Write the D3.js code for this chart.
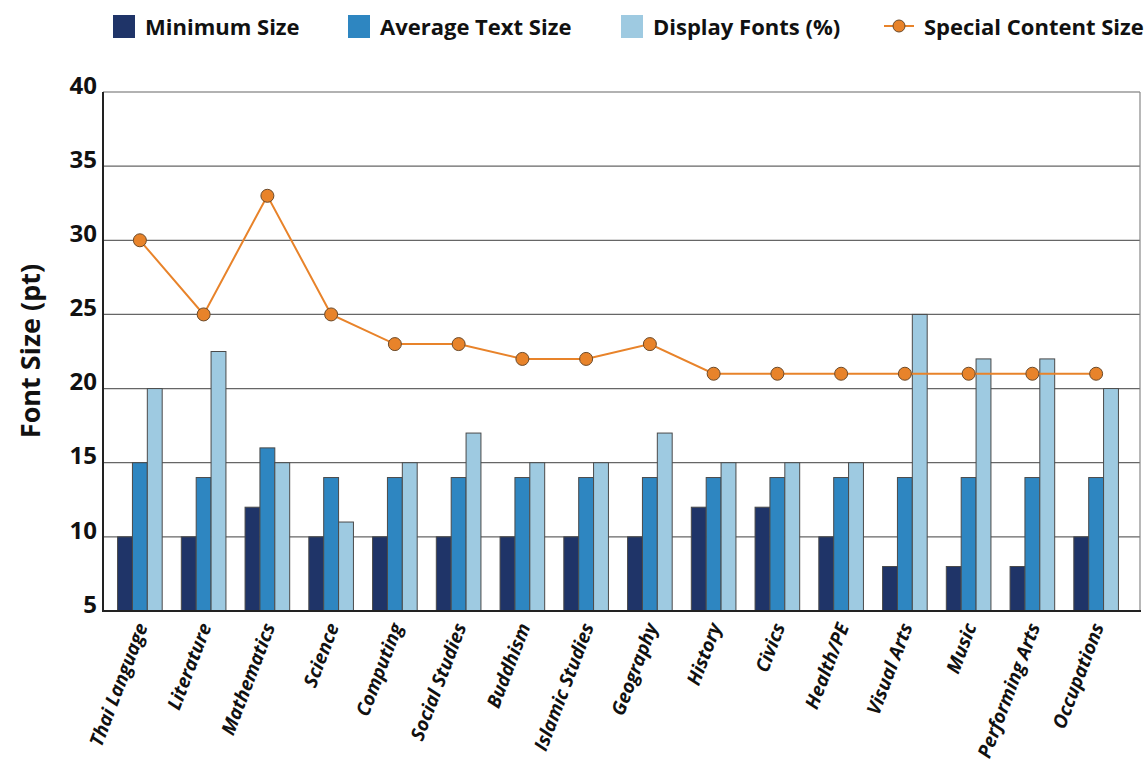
<!DOCTYPE html>
<html><head><meta charset="utf-8">
<script src="https://cdn.jsdelivr.net/npm/d3@7"></script>
<style>body{margin:0;background:#fff}svg{display:block}text{font-family:"Open Sans",sans-serif}</style>
</head><body>
<svg id="c" width="1145" height="767"></svg>
<script>
const categories = ["Thai Language","Literature","Mathematics","Science","Computing","Social Studies","Buddhism","Islamic Studies","Geography","History","Civics","Health/PE","Visual Arts","Music","Performing Arts","Occupations"];
const minimumSize = [10,10,12,10,10,10,10,10,10,12,12,10,8,8,8,10];
const averageTextSize = [15,14,16,14,14,14,14,14,14,14,14,14,14,14,14,14];
const displayFonts = [20,22.5,15,11,15,17,15,15,17,15,15,15,25,22,22,20];
const specialContentSize = [30,25,33,25,23,23,22,22,23,21,21,21,21,21,21,21];
const yTicks = [5,10,15,20,25,30,35,40];
const seriesNames = ["Minimum Size","Average Text Size","Display Fonts (%)","Special Content Size"];
const colors = ["#1f3468","#2e86c1","#9ecae1","#e8832a"];

const svg = d3.select("#c");
const pL = 103, pR = 1140, pT = 92, pB = 611;
const y = d3.scaleLinear().domain([5,40]).range([pB, pT]);
const x = d3.scaleBand().domain(categories).range([108, 1128]).paddingInner(0.3).paddingOuter(0.15);
const barSeries = [minimumSize, averageTextSize, displayFonts];
const xs = d3.scaleBand().domain([0,1,2]).range([0, x.bandwidth()]);

// gridlines
svg.append("g").selectAll("line").data(yTicks.filter(t=>t>5)).join("line")
  .attr("x1", pL).attr("x2", pR).attr("y1", d=>y(d)).attr("y2", d=>y(d))
  .attr("stroke", "#666").attr("stroke-width", 1.2);
svg.append("line").attr("x1", pR).attr("x2", pR).attr("y1", pT).attr("y2", pB).attr("stroke","#888").attr("stroke-width",1.2);

// bars
barSeries.forEach((vals, si) => {
  svg.append("g").selectAll("rect").data(categories).join("rect")
    .attr("x", (d)=> x(d) + xs(si))
    .attr("width", xs.bandwidth())
    .attr("y", (d,i)=> y(vals[i]))
    .attr("height", (d,i)=> y(5) - y(vals[i]))
    .attr("fill", colors[si])
    .attr("stroke", "#4a4a4a").attr("stroke-width", 1);
});

// line
const cx = d => x(d) + x.bandwidth()/2;
svg.append("path").datum(categories)
  .attr("d", d3.line().x(d=>cx(d)).y((d,i)=>y(specialContentSize[i])))
  .attr("fill","none").attr("stroke", colors[3]).attr("stroke-width", 2);
svg.append("g").selectAll("circle").data(categories).join("circle")
  .attr("cx", d=>cx(d)).attr("cy", (d,i)=>y(specialContentSize[i])).attr("r", 6.5)
  .attr("fill", colors[3]).attr("stroke", "#6b4a2a").attr("stroke-width", 1);

// axes
const yAxis = svg.append("g").attr("transform", `translate(${pL},0)`)
  .call(d3.axisLeft(y).tickValues(yTicks).tickSize(0).tickPadding(6));
yAxis.select(".domain").remove();
yAxis.selectAll("text").attr("font-size", 24).attr("font-weight", 700).attr("fill", "#111").attr("dy","0.05em");
svg.append("line").attr("x1", pL).attr("x2", pL).attr("y1", pT).attr("y2", pB+1).attr("stroke","#222").attr("stroke-width",2);
svg.append("line").attr("x1", pL).attr("x2", pR+1).attr("y1", pB).attr("y2", pB).attr("stroke","#222").attr("stroke-width",2);

const xAxis = svg.append("g").attr("transform", `translate(0,${pB})`)
  .call(d3.axisBottom(x).tickSize(0).tickPadding(0));
xAxis.select(".domain").remove();
xAxis.selectAll("text")
  .attr("text-anchor", "end")
  .attr("transform", `translate(2,13) rotate(-69)`)
  .attr("dy", "0.35em").attr("y", 0)
  .attr("font-size", 19).attr("font-weight", 700).attr("font-style", "italic").attr("fill", "#111");

svg.append("text").attr("transform", "translate(40,351) rotate(-90)")
  .attr("text-anchor","middle").attr("font-size", 27).attr("font-weight", 700).attr("fill","#111")
  .text("Font Size (pt)");

// legend
const leg = [{x:113, t:0},{x:348,t:1},{x:621,t:2},{x:884,t:3}];
leg.forEach(l => {
  if (l.t < 3) {
    svg.append("rect").attr("x", l.x).attr("y", 15).attr("width", 22).attr("height", 23).attr("fill", colors[l.t]);
    svg.append("text").attr("x", l.x+32).attr("y", 35).attr("font-size", 22).attr("font-weight", 700).attr("fill","#111").text(seriesNames[l.t]);
  } else {
    svg.append("line").attr("x1", l.x).attr("x2", l.x+30).attr("y1", 26).attr("y2", 26).attr("stroke", colors[3]).attr("stroke-width", 2);
    svg.append("circle").attr("cx", l.x+15).attr("cy", 26).attr("r", 6).attr("fill", colors[3]).attr("stroke","#6b4a2a");
    svg.append("text").attr("x", l.x+40).attr("y", 35).attr("font-size", 22).attr("font-weight", 700).attr("fill","#111").text(seriesNames[3]);
  }
});
</script>
</body></html>
